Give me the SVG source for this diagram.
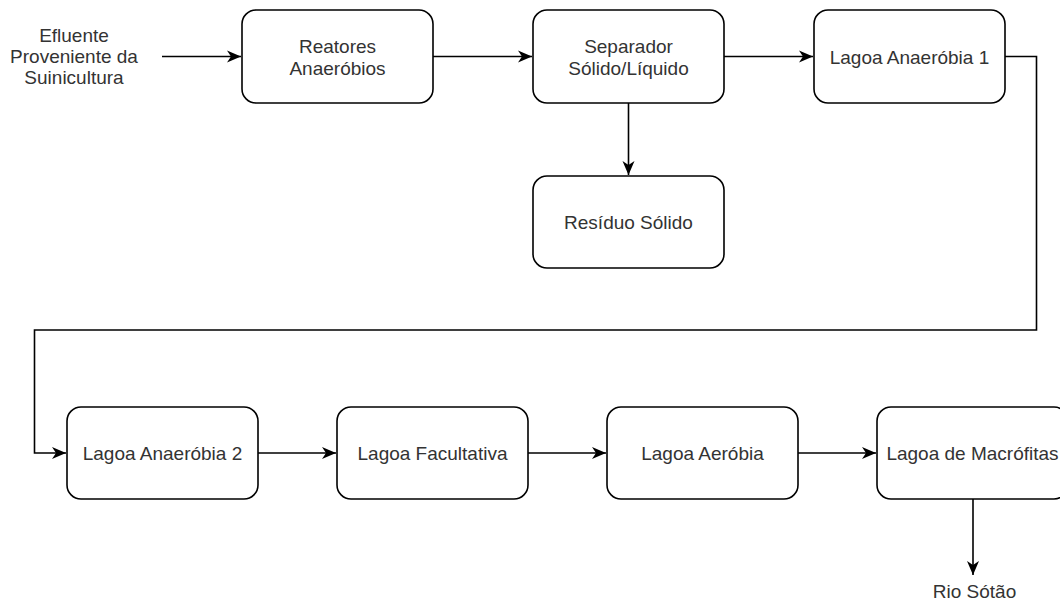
<svg xmlns="http://www.w3.org/2000/svg" width="1060" height="601" viewBox="0 0 1060 601">
<defs>
<style>
.box{fill:#ffffff;stroke:#000000;stroke-width:1.6}
.lbl{font-family:"Liberation Sans",Arial,Helvetica,sans-serif;font-size:19px;fill:#333333;text-anchor:middle}
.edge{fill:none;stroke:#000000;stroke-width:1.6}
</style>
<marker id="arr" markerUnits="userSpaceOnUse" markerWidth="15" markerHeight="13" refX="14" refY="6" orient="auto" overflow="visible">
<path d="M0,0 L14,6 L0,12 L4,6 Z" fill="#000000"/>
</marker>
</defs>
<rect width="1060" height="601" fill="#ffffff"/>
<g id="connectors">
<path class="edge" d="M162,56.5 H241" marker-end="url(#arr)"/>
<path class="edge" d="M433,56.5 H532" marker-end="url(#arr)"/>
<path class="edge" d="M724,56.5 H813" marker-end="url(#arr)"/>
<path class="edge" d="M628.5,103 V175" marker-end="url(#arr)"/>
<path class="edge" d="M1005,56.5 H1036.5 V330 H34.5 V453 H66" marker-end="url(#arr)"/>
<path class="edge" d="M258,453 H336" marker-end="url(#arr)"/>
<path class="edge" d="M528,453 H606" marker-end="url(#arr)"/>
<path class="edge" d="M798,453 H876" marker-end="url(#arr)"/>
<path class="edge" d="M973,499 V575" marker-end="url(#arr)"/>
</g>
<g id="efluente">
<text class="lbl" x="74" y="42">Efluente</text>
<text class="lbl" x="74" y="63">Proveniente da</text>
<text class="lbl" x="74" y="84">Suinicultura</text>
</g>
<g id="reatores">
<rect class="box" x="242" y="10" width="191" height="93" rx="14" ry="14"/>
<text class="lbl" x="337.5" y="53">Reatores</text>
<text class="lbl" x="337.5" y="75">Anaeróbios</text>
</g>
<g id="separador">
<rect class="box" x="533" y="10" width="191" height="93" rx="14" ry="14"/>
<text class="lbl" x="628.5" y="53">Separador</text>
<text class="lbl" x="628.5" y="75">Sólido/Líquido</text>
</g>
<g id="residuo">
<rect class="box" x="533" y="176" width="191" height="92" rx="14" ry="14"/>
<text class="lbl" x="628.5" y="229">Resíduo Sólido</text>
</g>
<g id="lagoa-anaerobia-1">
<rect class="box" x="814" y="10" width="191" height="93" rx="14" ry="14"/>
<text class="lbl" x="909.5" y="63.5">Lagoa Anaeróbia 1</text>
</g>
<g id="lagoa-anaerobia-2">
<rect class="box" x="67" y="407" width="191" height="92" rx="14" ry="14"/>
<text class="lbl" x="162.5" y="460">Lagoa Anaeróbia 2</text>
</g>
<g id="lagoa-facultativa">
<rect class="box" x="337" y="407" width="191" height="92" rx="14" ry="14"/>
<text class="lbl" x="432.5" y="460">Lagoa Facultativa</text>
</g>
<g id="lagoa-aerobia">
<rect class="box" x="607" y="407" width="191" height="92" rx="14" ry="14"/>
<text class="lbl" x="702.5" y="460">Lagoa Aeróbia</text>
</g>
<g id="lagoa-macrofitas">
<rect class="box" x="877" y="407" width="191" height="92" rx="14" ry="14"/>
<text class="lbl" x="972.5" y="460">Lagoa de Macrófitas</text>
</g>
<g id="rio-sotao">
<text class="lbl" x="974.5" y="598">Rio Sótão</text>
</g>
</svg>
